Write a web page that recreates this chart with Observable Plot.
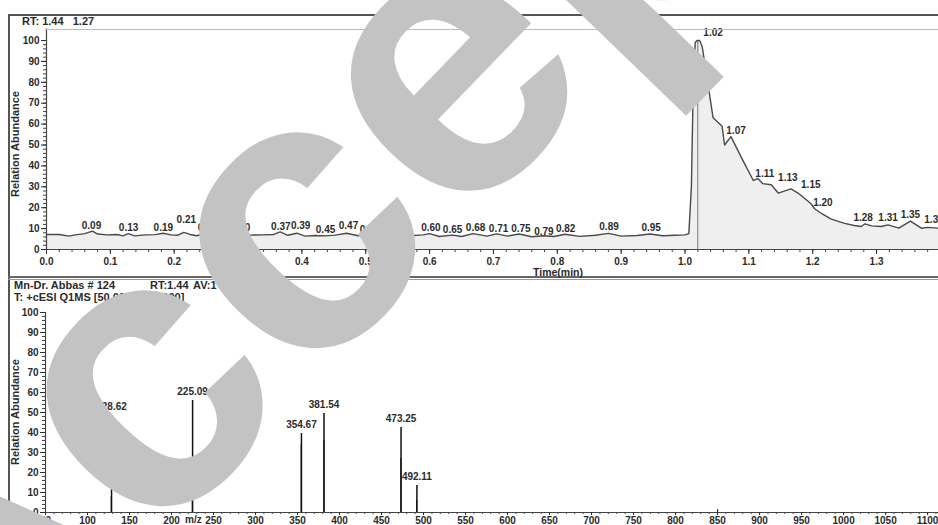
<!DOCTYPE html>
<html><head><meta charset="utf-8">
<script src="https://cdn.jsdelivr.net/npm/d3@7"></script>
<script src="https://cdn.jsdelivr.net/npm/@observablehq/plot@0.6"></script>
<style>
body{margin:0;background:#fff;font-family:"Liberation Sans",Arial,sans-serif;}
#page{position:relative;width:938px;height:525px;overflow:hidden;background:#fff;}
.hdr{position:absolute;font-weight:bold;font-size:11px;color:#2b2b2b;white-space:pre;line-height:12px;}
.ln{position:absolute;background:#555;}
#top,#bot{position:absolute;left:0;}
#top{top:0;} #bot{top:278px;}
.ytitle{position:absolute;font-weight:bold;font-size:11px;color:#2b2b2b;white-space:pre;transform:rotate(-90deg);transform-origin:center;}
#wm{position:absolute;left:0;top:0;pointer-events:none;}
</style></head><body><div id="page">
<div id="top"></div>
<div id="bot"></div>
<div class="ln" style="left:8px;top:14px;width:930px;height:1.5px;"></div>
<div class="ln" style="left:8px;top:14px;width:1.5px;height:511px;"></div>
<div class="ln" style="left:45px;top:29px;width:893px;height:1px;background:#bbb;"></div>
<div class="ln" style="left:8px;top:276px;width:930px;height:1.5px;background:#666;"></div>
<div class="ln" style="left:8px;top:279px;width:930px;height:1px;background:#999;"></div>
<div class="hdr" style="left:22px;top:15px;">RT: 1.44   1.27</div>
<div class="hdr" style="left:14px;top:279px;">Mn-Dr. Abbas # 124</div>
<div class="hdr" style="left:150px;top:279px;">RT:1.44</div>
<div class="hdr" style="left:193px;top:279px;">AV:1</div>
<div class="hdr" style="left:232px;top:279px;">NL: 2.42 E8</div>
<div class="hdr" style="left:14px;top:291px;">T: +cESI Q1MS [50.000-1300.000]</div>
<div class="hdr" style="left:533px;top:266px;font-size:10.5px;">Time(min)</div>
<div class="hdr" style="left:185px;top:514px;font-size:10px;">m/z</div>
<div class="ytitle" style="left:-38px;top:138px;">Relation Abundance</div>
<div class="ytitle" style="left:-38px;top:406px;">Relation Abundance</div>
<svg id="wm" width="938" height="525"><text transform="translate(-48,758) rotate(-46)" font-family="Liberation Sans, Arial, sans-serif" font-weight="bold" font-size="395" fill="#c3c3c3">Accepted</text></svg>
</div>
<script>
// ---- Chromatogram (top) ----
const chromTime = [0.000,0.020,0.035,0.045,0.060,0.072,0.080,0.095,0.110,0.120,0.128,0.138,0.155,0.170,0.183,0.195,0.205,0.215,0.225,0.235,0.248,0.262,0.280,0.300,0.320,0.340,0.356,0.366,0.378,0.392,0.405,0.420,0.437,0.452,0.470,0.488,0.502,0.515,0.535,0.550,0.570,0.590,0.600,0.615,0.636,0.650,0.668,0.690,0.705,0.722,0.740,0.760,0.778,0.795,0.812,0.835,0.860,0.880,0.900,0.925,0.945,0.965,0.985,1.000,1.006,1.010,1.013,1.016,1.019,1.023,1.027,1.044,1.058,1.062,1.072,1.090,1.107,1.114,1.122,1.135,1.146,1.166,1.177,1.197,1.203,1.215,1.229,1.250,1.265,1.276,1.282,1.292,1.307,1.318,1.335,1.353,1.370,1.380,1.397];
const chromAbund = [7.2,7.2,6.4,7.0,7.6,8.8,7.4,7.0,7.2,6.5,7.6,6.5,7.0,7.1,7.8,7.0,6.8,8.2,7.2,6.6,7.6,6.4,6.9,7.4,6.9,7.0,7.2,8.4,6.8,7.8,6.4,6.7,6.5,6.9,7.8,6.6,7.4,6.5,7.4,6.6,6.6,7.0,7.6,6.2,6.9,6.2,7.6,6.4,7.5,6.4,7.4,6.1,6.6,6.2,7.3,6.3,6.8,7.7,6.4,6.7,7.4,6.6,6.8,7.0,7.6,30,80,99,100,100,97,63,59,50,54,43,33,34,31.5,31,27,29,27,22,19.5,17,14.5,12.5,11.5,11,12.3,11.3,11,11.8,10.2,13.6,10.2,10.6,10.2];
const rtLabels = ["0.09","0.13","0.19","0.21","0.24","0.30","0.37","0.39","0.45","0.47","0.51","0.54","0.60","0.65","0.68","0.71","0.75","0.79","0.82","0.89","0.95","1.02","1.07","1.11","1.13","1.15","1.20","1.28","1.31","1.35","1.37"];
const rtLabelTime = [0.0705,0.1285,0.183,0.219,0.252,0.304,0.367,0.398,0.437,0.473,0.506,0.541,0.602,0.636,0.672,0.708,0.743,0.779,0.813,0.881,0.947,1.044,1.080,1.125,1.161,1.197,1.216,1.279,1.318,1.353,1.390];
const rtLabelAbund = [11.5,10.5,10.5,14,10.5,10.5,11,11.5,9.6,11.5,9.6,10,10.5,9.6,10.5,10,10,8.6,10,11,10.5,103.5,57,36,34.5,31,22.5,15.3,15,16.7,14];
const rtMarker = [1.02];
const timeTicks = [0,0.1,0.2,0.3,0.4,0.5,0.6,0.7,0.8,0.9,1.0,1.1,1.2,1.3];
const abundTicks = [0,10,20,30,40,50,60,70,80,90,100];

// ---- Mass spectrum (bottom) ----
const mzPeaks = [128.62,225.09,354.67,381.54,473.25,492.11];
const mzAbund = [48.5,56,39.5,49.5,42.5,13.5];
const mzMinor = [128.3,224.8,354.4,381.3,473.0,491.8,850.0];
const mzMinorAbund = [8,26,34,36,27,6,1.5];
const mzTicks = [50,100,150,200,250,300,350,400,450,500,550,600,650,700,750,800,850,900,950,1000,1050,1100];

const chrom = chromTime.map((t,i)=>({t, a: chromAbund[i]}));
const rtLab = rtLabels.map((s,i)=>({s, t: rtLabelTime[i], a: rtLabelAbund[i]}));
const peaks = mzPeaks.map((m,i)=>({m, a: mzAbund[i]}));
const minor = mzMinor.map((m,i)=>({m, a: mzMinorAbund[i]}));

const minorTime = d3.range(0, 1.397, 0.02);
const minorAbund = d3.range(0, 100.1, 2);
const minorMzTicks = d3.range(50, 1113, 10);

const txt = {fontFamily:"Liberation Sans, Arial, sans-serif", fontWeight:"bold", fontSize:"10px", color:"#2b2b2b", background:"transparent", overflow:"visible"};

const topPlot = Plot.plot({
  width: 938, height: 278,
  marginLeft: 46, marginRight: 0, marginTop: 40, marginBottom: 29,
  x: {domain: [0, 1.397], label: null},
  y: {domain: [0, 100], label: null},
  style: txt,
  marks: [
    Plot.areaY(chrom, {x: "t", y: "a", fill: "#efefef"}),
    Plot.ruleX(rtMarker, {y1: 0, y2: 100, stroke: "#777", strokeWidth: 1}),
    Plot.line(chrom, {x: "t", y: "a", stroke: "#4a4a4a", strokeWidth: 1.4}),
    Plot.text(rtLab, {x: "t", y: "a", text: "s", fontSize: 10, fontWeight: "bold", fill: "#2b2b2b"}),
    Plot.ruleY([0], {stroke: "#444", strokeWidth: 1.2}),
    Plot.ruleX([0], {y1: 0, y2: 105.5, stroke: "#444", strokeWidth: 1.2}),
    Plot.axisX({ticks: minorTime, tickSize: 3, tickFormat: () => "", stroke: "#444"}),
    Plot.axisX({ticks: timeTicks, tickSize: 5, tickPadding: 3, tickFormat: d => d.toFixed(1), fontSize: 10, fontWeight: "bold", fill: "#2b2b2b"}),
    Plot.axisY({ticks: minorAbund, tickSize: 3, tickFormat: () => "", stroke: "#444"}),
    Plot.axisY({ticks: abundTicks, tickSize: 5, tickPadding: 2, fontSize: 10, fontWeight: "bold", fill: "#2b2b2b"})
  ]
});
document.getElementById("top").appendChild(topPlot);

const botPlot = Plot.plot({
  width: 938, height: 247,
  marginLeft: 45, marginRight: 0, marginTop: 34, marginBottom: 13,
  x: {domain: [50, 1113], label: null},
  y: {domain: [0, 100], label: null},
  style: txt,
  marks: [
    Plot.ruleX(minor, {x: "m", y1: 0, y2: "a", stroke: "#333", strokeWidth: 1.2}),
    Plot.ruleX(peaks, {x: "m", y1: 0, y2: "a", stroke: "#111", strokeWidth: 1.5}),
    Plot.text(peaks, {x: "m", y: "a", text: d => d.m.toFixed(2), dy: -9, fontSize: 10, fontWeight: "bold", fill: "#2b2b2b"}),
    Plot.ruleY([0], {stroke: "#444", strokeWidth: 1.2}),
    Plot.ruleX([50], {y1: 0, y2: 100, stroke: "#444", strokeWidth: 1.2}),
    Plot.axisX({ticks: minorMzTicks, tickSize: 2, tickFormat: () => "", stroke: "#444"}),
    Plot.axisX({ticks: mzTicks, tickSize: 3, tickPadding: 1, tickFormat: d => String(d), fontSize: 10, fontWeight: "bold", fill: "#2b2b2b"}),
    Plot.axisY({ticks: minorAbund, tickSize: 3, tickFormat: () => "", stroke: "#444"}),
    Plot.axisY({ticks: abundTicks, tickSize: 5, tickPadding: 2, fontSize: 10, fontWeight: "bold", fill: "#2b2b2b"})
  ]
});
document.getElementById("bot").appendChild(botPlot);
</script>
</body></html>
